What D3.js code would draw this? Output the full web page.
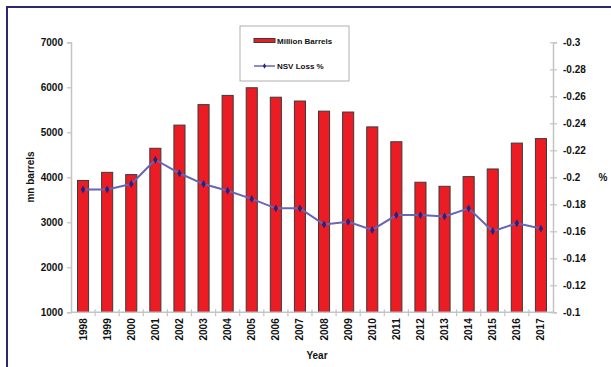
<!DOCTYPE html>
<html>
<head>
<meta charset="utf-8">
<script src="https://cdn.jsdelivr.net/npm/d3@7"></script>
<style>
  html, body { margin: 0; padding: 0; background: #fff; }
  svg { display: block; font-family: "Liberation Sans", Arial, sans-serif; }
</style>
</head>
<body>
<svg id="chart" width="611" height="367"></svg>
<script>
// Annual volumes (million barrels) and net standard volume loss (%)
const years = ["1998","1999","2000","2001","2002","2003","2004","2005","2006","2007",
               "2008","2009","2010","2011","2012","2013","2014","2015","2016","2017"];
const barrels = [3930, 4110, 4060, 4645, 5160, 5615, 5820, 5990, 5780, 5695,
                 5470, 5450, 5120, 4790, 3890, 3800, 4015, 4185, 4760, 4860];
const nsvLoss = [-0.191, -0.191, -0.195, -0.213, -0.203, -0.195, -0.190, -0.184, -0.177, -0.177,
                 -0.165, -0.167, -0.161, -0.172, -0.172, -0.171, -0.177, -0.160, -0.166, -0.162];
const leftTicks = [1000, 2000, 3000, 4000, 5000, 6000, 7000];
const rightTicks = [-0.1, -0.12, -0.14, -0.16, -0.18, -0.2, -0.22, -0.24, -0.26, -0.28, -0.3];

const svg = d3.select("#chart");
const plot = { left: 71, right: 553, top: 42.3, bottom: 312.3 };

// outer frame
svg.append("rect")
  .attr("x", 7).attr("y", 7).attr("width", 606).attr("height", 370)
  .attr("fill", "none").attr("stroke", "#2a2872").attr("stroke-width", 2);

const x = d3.scaleBand().domain(years).range([plot.left, plot.right]).paddingInner(0.54).paddingOuter(0.27);
const xb = d3.scaleBand().domain(years).range([plot.left, plot.right]);
const yL = d3.scaleLinear().domain([1000, 7000]).range([plot.bottom, plot.top]);
const yR = d3.scaleLinear().domain([-0.1, -0.3]).range([plot.bottom, plot.top]);

const axisColor = "#c4c4c4";
const fmtR = d => String(+d.toFixed(2));

// left axis
const gL = svg.append("g").attr("transform", `translate(${plot.left},0)`)
  .call(d3.axisLeft(yL).tickValues(leftTicks).tickSize(4).tickPadding(4).tickFormat(d3.format("d")));
// right axis
const gR = svg.append("g").attr("transform", `translate(${plot.right},0)`)
  .call(d3.axisRight(yR).tickValues(rightTicks).tickSize(4).tickPadding(6).tickFormat(fmtR));
[gL, gR].forEach(g => {
  g.select(".domain").attr("stroke", axisColor).attr("stroke-width", 1.5);
  g.selectAll(".tick line").attr("stroke", axisColor).attr("stroke-width", 1.2);
  g.selectAll(".tick text").attr("fill", "#111").attr("font-size", 10).attr("font-weight", "bold")
    .attr("font-family", "Liberation Sans, Arial, sans-serif");
});
gR.selectAll(".tick line").attr("x1", -3);

// bars
svg.append("g").selectAll("rect").data(years).join("rect")
  .attr("x", d => x(d)).attr("width", x.bandwidth())
  .attr("y", (d, i) => yL(barrels[i]))
  .attr("height", (d, i) => yL(1000) - yL(barrels[i]))
  .attr("fill", "#ec1c24").attr("stroke", "#3a3a3a").attr("stroke-width", 1);

// bottom axis
const gX = svg.append("g").attr("transform", `translate(0,${plot.bottom})`);
gX.append("line").attr("x1", plot.left).attr("x2", plot.right)
  .attr("stroke", axisColor).attr("stroke-width", 1.5);
gX.selectAll("line.tk").data(years.slice(1)).join("line").attr("class", "tk")
  .attr("x1", d => xb(d)).attr("x2", d => xb(d)).attr("y1", -3).attr("y2", 4)
  .attr("stroke", axisColor).attr("stroke-width", 1.2);
gX.selectAll("text").data(years).join("text")
  .attr("transform", d => `translate(${x(d) + x.bandwidth() / 2 + 3.5},6) rotate(-90)`)
  .attr("text-anchor", "end").attr("font-size", 10).attr("font-weight", "bold").attr("fill", "#111")
  .text(d => d);

// NSV loss line
const line = d3.line().x((d, i) => x(years[i]) + x.bandwidth() / 2).y(d => yR(d));
svg.append("path").datum(nsvLoss).attr("d", line)
  .attr("fill", "none").attr("stroke", "#6a64b2").attr("stroke-width", 2);
svg.append("g").selectAll("path").data(nsvLoss).join("path")
  .attr("d", d3.symbol(d3.symbolDiamond, 18))
  .attr("transform", (d, i) => `translate(${x(years[i]) + x.bandwidth() / 2},${yR(d)})`)
  .attr("fill", "#26237e");

// axis titles
svg.append("text").attr("transform", "translate(34,177) rotate(-90)")
  .attr("text-anchor", "middle").attr("font-size", 10).attr("font-weight", "bold").attr("fill", "#111")
  .text("mn barrels");
svg.append("text").attr("x", 603).attr("y", 181)
  .attr("text-anchor", "middle").attr("font-size", 10).attr("font-weight", "bold").attr("fill", "#111")
  .text("%");
svg.append("text").attr("x", 317).attr("y", 359)
  .attr("text-anchor", "middle").attr("font-size", 10).attr("font-weight", "bold").attr("fill", "#111")
  .text("Year");

// legend
const lg = svg.append("g");
lg.append("rect").attr("x", 240).attr("y", 26).attr("width", 109).attr("height", 55)
  .attr("fill", "#fff").attr("stroke", "#b0b0b0").attr("stroke-width", 1);
lg.append("rect").attr("x", 254).attr("y", 38.5).attr("width", 21).attr("height", 4)
  .attr("fill", "#ec1c24").attr("stroke", "#3a3a3a").attr("stroke-width", 1);
lg.append("text").attr("x", 277).attr("y", 43.5).attr("font-size", 8).attr("font-weight", "bold")
  .attr("fill", "#111").text("Million Barrels");
lg.append("line").attr("x1", 254).attr("x2", 275).attr("y1", 66).attr("y2", 66)
  .attr("stroke", "#6a64b2").attr("stroke-width", 1.5);
lg.append("path").attr("d", d3.symbol(d3.symbolDiamond, 9))
  .attr("transform", "translate(264.5,66)").attr("fill", "#26237e");
lg.append("text").attr("x", 277).attr("y", 69).attr("font-size", 8).attr("font-weight", "bold")
  .attr("fill", "#111").text("NSV Loss %");
</script>
</body>
</html>
